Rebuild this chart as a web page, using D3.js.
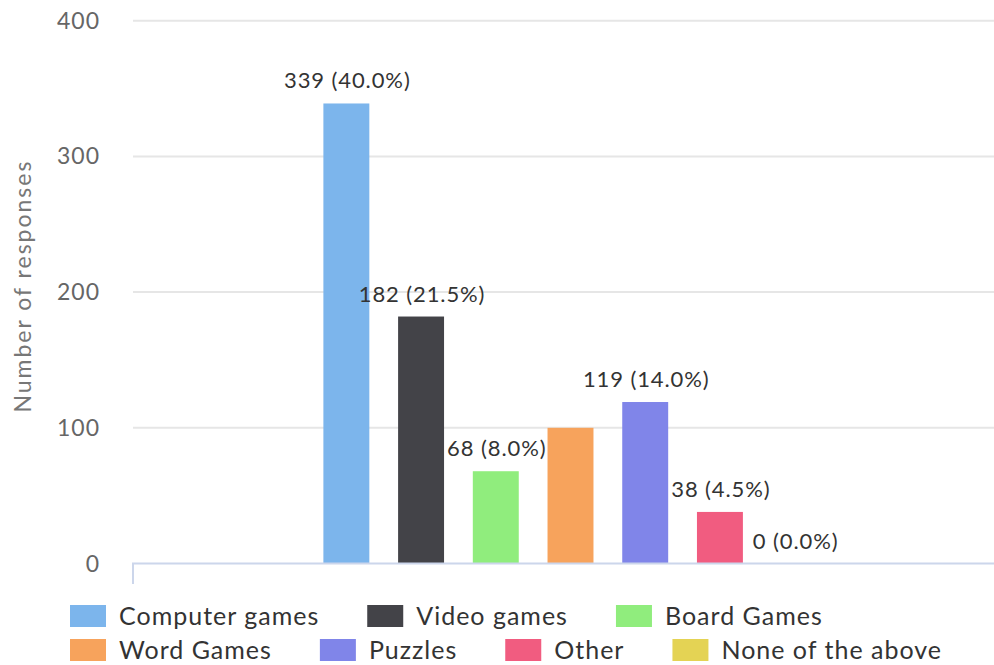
<!DOCTYPE html>
<html>
<head>
<meta charset="utf-8">
<script src="https://cdn.jsdelivr.net/npm/d3@7"></script>
<style>
  body { margin: 0; background: #fff; }
  text { font-family: Lato, "Open Sans", sans-serif; }
</style>
</head>
<body>
<svg id="chart" width="994" height="665"></svg>
<script>
// survey answers, one series per option
const categories = ["Computer games", "Video games", "Board Games", "Word Games", "Puzzles", "Other", "None of the above"];
const counts = [339, 182, 68, 100, 119, 38, 0];
const percents = ["40.0", "21.5", "8.0", "11.8", "14.0", "4.5", "0.0"];
const colors = ["#7cb5ec", "#434348", "#90ed7d", "#f7a35c", "#8085e9", "#f15c80", "#e4d354"];
const yTicks = [0, 100, 200, 300, 400];

const svg = d3.select("#chart");
const plot = { left: 133, right: 994, top: 20.7, bottom: 563.5 };

const y = d3.scaleLinear().domain([0, 400]).range([plot.bottom, plot.top]);
const x = d3.scaleBand().domain(categories).range([309, 832])
    .paddingInner(0.385).paddingOuter(0.1925);

// ── Grid + y labels ──
svg.append("g").selectAll("line")
    .data(yTicks.filter(d => d > 0))
    .join("line")
    .attr("x1", plot.left).attr("x2", plot.right)
    .attr("y1", d => y(d)).attr("y2", d => y(d))
    .attr("stroke", "#e6e6e6").attr("stroke-width", 2);

svg.append("g").selectAll("text")
    .data(yTicks)
    .join("text")
    .attr("x", 100).attr("y", d => y(d) + 8)
    .attr("text-anchor", "end")
    .attr("fill", "#666")
    .style("font-size", "23px")
    .style("letter-spacing", "1px")
    .text(d => d);

svg.append("text")
    .attr("transform", `translate(31,${(plot.top + plot.bottom) / 2 - 6}) rotate(-90)`)
    .attr("text-anchor", "middle")
    .attr("fill", "#777")
    .style("font-size", "23px")
    .style("letter-spacing", "2px")
    .text("Number of responses");

// ── Bars ──
svg.append("g").selectAll("rect")
    .data(categories)
    .join("rect")
    .attr("x", d => x(d))
    .attr("width", x.bandwidth())
    .attr("y", (d, i) => y(counts[i]))
    .attr("height", (d, i) => y(0) - y(counts[i]))
    .attr("fill", (d, i) => colors[i]);

// x axis line + start tick
svg.append("path")
    .attr("d", `M${plot.left},584V${plot.bottom}H${plot.right}`)
    .attr("fill", "none").attr("stroke", "#ccd6eb").attr("stroke-width", 2);

// ── Data labels (hide ones that collide with a bigger bar's label) ──
const labels = svg.append("g").selectAll("text")
    .data(categories)
    .join("text")
    .attr("x", d => x(d) + x.bandwidth() / 2 + 1)
    .attr("y", (d, i) => y(counts[i]) - 15)
    .attr("text-anchor", "middle")
    .attr("fill", "#333")
    .style("font-size", "22px")
    .style("letter-spacing", "0.9px")
    .text((d, i) => `${counts[i]} (${percents[i]}%)`);

const pad = 9;
const boxes = labels.nodes().map(n => n.getBBox());
const order = d3.range(categories.length).sort((a, b) => counts[b] - counts[a]);
const kept = [];
order.forEach(i => {
    const b = boxes[i];
    const hit = kept.some(j => {
        const o = boxes[j];
        return b.x - pad < o.x + o.width + pad && b.x + b.width + pad > o.x - pad &&
               b.y - pad < o.y + o.height + pad && b.y + b.height + pad > o.y - pad;
    });
    if (hit) d3.select(labels.nodes()[i]).remove();
    else kept.push(i);
});

// ── Legend (flowing rows) ──
const legend = svg.append("g");
const rowY = [616, 650];
let lx = 70, row = 0;
categories.forEach((c, i) => {
    const item = legend.append("g");
    item.append("rect").attr("width", 36).attr("height", 22).attr("y", -11).attr("fill", colors[i]);
    const t = item.append("text").attr("x", 49).attr("y", 8.5)
        .attr("fill", "#333").style("font-size", "25px")
        .style("letter-spacing", "1px").text(c);
    const w = 49 + t.node().getComputedTextLength() + 48;
    if (lx + w - 48 > 960) { row += 1; lx = 70; }
    item.attr("transform", `translate(${lx},${rowY[row]})`);
    lx += w;
});
</script>
</body>
</html>
